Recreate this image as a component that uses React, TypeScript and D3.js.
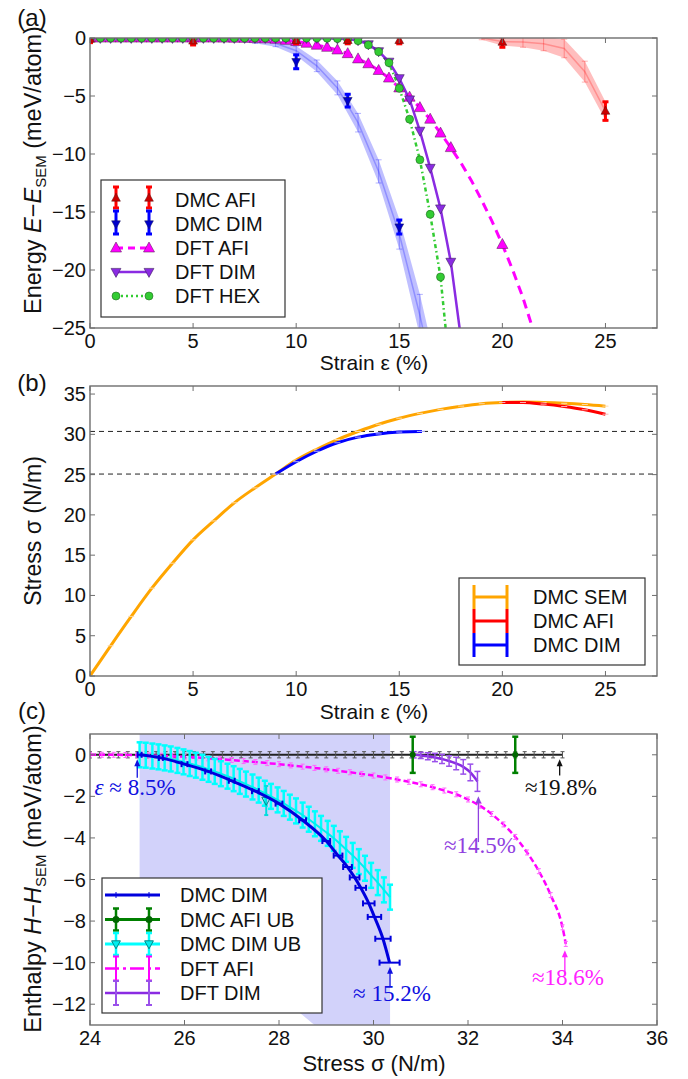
import React from 'react';
import * as d3 from 'd3';

// ---------------- Panel (a) data ----------------
const strainTicks = [0, 5, 10, 15, 20, 25];
const energyTicks = [0, -5, -10, -15, -20, -25];

const dmcAfiStrain = [0, 5, 10, 12.5, 15, 20, 25];
const dmcAfiEnergy = [-0.1, -0.25, -0.2, -0.2, -0.2, -0.35, -6.3];
const dmcAfiErr = [0.3, 0.35, 0.3, 0.3, 0.3, 0.45, 0.8];

const dmcDimStrain = [10, 12.5, 15];
const dmcDimEnergy = [-2.05, -5.4, -16.3];
const dmcDimErr = [0.6, 0.55, 0.6];

const afiBandStrain = [19, 20, 21, 22, 23, 24, 25];
const afiBandEnergy = [0, -0.3, -0.35, -0.5, -0.9, -2.9, -6.3];
const afiBandErr = [0.15, 0.35, 0.45, 0.6, 0.8, 0.9, 0.8];

const dimBandStrain = [0, 1, 2, 3, 4, 5, 6, 7, 8, 9, 10, 11, 12, 13, 14, 15, 16, 17];
const dimBandEnergy = [-0.1, -0.1, -0.1, -0.1, -0.1, -0.1, -0.1, -0.1, -0.2, -0.45, -1.1, -2.4, -4.3, -7.3, -11.5, -16.9, -23.9, -32];
const dimBandErr = [0.2, 0.2, 0.2, 0.2, 0.2, 0.2, 0.2, 0.2, 0.25, 0.3, 0.4, 0.5, 0.6, 0.8, 1.0, 1.3, 1.8, 2.2];

const dftStrain = [0, 0.5, 1, 1.5, 2, 2.5, 3, 3.5, 4, 4.5, 5, 5.5, 6, 6.5, 7, 7.5, 8, 8.5,
  9, 9.5, 10, 10.5, 11, 11.5, 12, 12.5, 13, 13.5, 14, 14.5, 15, 15.5, 16, 16.5, 17, 17.5];
const dftAfiEnergy = [0, 0, 0, 0, 0, 0, 0, 0, 0, 0, 0, 0, 0, -0.01, -0.02, -0.03, -0.05, -0.07,
  -0.1, -0.2, -0.3, -0.45, -0.62, -0.8, -1.03, -1.35, -1.8, -2.22, -2.8, -3.45, -4.3, -5.1, -6.0, -7.0, -8.2, -9.45];
const dftAfiTailStrain = [18, 18.5, 19, 19.5, 20, 20.5, 21, 21.5];
const dftAfiTailEnergy = [-10.8, -12.3, -14.0, -15.8, -17.8, -20.0, -22.4, -25.2];
const dftAfiExtraMarkerStrain = [20];
const dftAfiExtraMarkerEnergy = [-17.8];

const dftDimEnergy = [0, 0, 0, 0, 0, 0, 0, 0, 0, 0, 0, 0, 0, 0, 0, 0, 0, 0,
  0, 0, 0, 0, 0, -0.02, -0.05, -0.1, -0.2, -0.55, -1.15, -2.05, -3.47, -5.3, -8.0, -11.2, -14.7, -19.3];
const dftDimTailStrain = [18];
const dftDimTailEnergy = [-26];

const hexStrain = [0, 0.5, 1, 1.5, 2, 2.5, 3, 3.5, 4, 4.5, 5, 5.5, 6, 6.5, 7, 7.5, 8, 8.5,
  9, 9.5, 10, 10.5, 11, 11.5, 12, 12.5, 13, 13.5, 14, 14.5, 15, 15.5, 16, 16.5, 17];
const hexEnergy = [0, 0, 0, 0, 0, 0, 0, 0, 0, 0, 0, 0, 0, 0, 0, 0, 0, 0,
  0, 0, 0, 0, 0, -0.02, -0.05, -0.1, -0.23, -0.6, -1.18, -2.13, -4.34, -7.0, -10.5, -15.2, -20.6];
const hexTailStrain = [17.5];
const hexTailEnergy = [-29.5];

const legendA = ['DMC AFI', 'DMC DIM', 'DFT AFI', 'DFT DIM', 'DFT HEX'];

// ---------------- Panel (b) data ----------------
const stressTicksB = [0, 5, 10, 15, 20, 25, 30, 35];
const semStrain = [0, 1, 2, 3, 4, 5, 6, 7, 8, 9, 10, 11, 12, 13, 14, 15, 16, 17, 18, 19, 20, 21, 22, 23, 24, 25];
const semStress = [0, 3.75, 7.4, 10.9, 14.0, 16.9, 19.25, 21.5, 23.35, 25.07, 26.8, 28.15, 29.35, 30.35, 31.25, 32.0, 32.6, 33.1, 33.5, 33.8, 33.95, 34.0, 33.95, 33.85, 33.7, 33.5];
const afiStrainB = [20, 21, 22, 23, 24, 25];
const afiStressB = [33.95, 33.95, 33.75, 33.45, 33.05, 32.5];
const dimStrainB = [9, 10, 11, 12, 13, 14, 15, 16, 16.1];
const dimStressB = [25.07, 26.6, 27.9, 28.95, 29.65, 30.05, 30.28, 30.36, 30.36];
const refLinesB = [30.36, 25.07];
const legendB = ['DMC SEM', 'DMC AFI', 'DMC DIM'];

// ---------------- Panel (c) data ----------------
const stressTicksC = [24, 26, 28, 30, 32, 34, 36];
const enthalpyTicks = [0, -2, -4, -6, -8, -10, -12];

const dimStressC = [25.05, 25.5, 26, 26.5, 27, 27.5, 28, 28.5, 29, 29.25, 29.45, 29.6, 29.73, 29.9, 30.02, 30.2, 30.34];
const dimEnthalpyC = [0, -0.15, -0.45, -0.8, -1.25, -1.75, -2.35, -3.15, -4.15, -4.85, -5.4, -5.9, -6.4, -7.15, -7.8, -8.85, -10.0];
const dimXErrC = [0, 0, 0.02, 0.02, 0.02, 0.03, 0.03, 0.03, 0.04, 0.05, 0.05, 0.06, 0.07, 0.08, 0.1, 0.12, 0.17];

const dimUbStress = [25.05, 25.18, 25.32, 25.45, 25.58, 25.71, 25.85, 25.98, 26.11, 26.24, 26.38, 26.51, 26.64, 26.77, 26.91, 27.04, 27.17, 27.30, 27.44, 27.57, 27.70, 27.83, 27.97, 28.10, 28.23, 28.36, 28.50, 28.63, 28.76, 28.89, 29.03, 29.16, 29.29, 29.42, 29.56, 29.69, 29.82, 29.95, 30.09, 30.22, 30.35];
const dimUbEnthalpy = [0, -0.02, -0.06, -0.1, -0.15, -0.2, -0.27, -0.34, -0.42, -0.5, -0.6, -0.7, -0.8, -0.91, -1.03, -1.15, -1.28, -1.41, -1.55, -1.7, -1.85, -2.0, -2.17, -2.34, -2.52, -2.7, -2.9, -3.1, -3.32, -3.54, -3.78, -4.02, -4.28, -4.55, -4.84, -5.14, -5.46, -5.8, -6.15, -6.5, -6.85];
const dimUbMarkerStress = [27.73];
const dimUbMarkerEnthalpy = [-2.2];
const dimUbMarkerErr = [0.7];

const afiUbStress = [30.83, 33.0];
const afiUbEnthalpy = [0, 0];
const afiUbErr = [0.87, 0.87];

const semLineStress = [24.0, 24.2, 24.4, 24.6, 24.8, 25.0, 25.2, 25.4, 25.6, 25.8, 26.0, 26.2, 26.4, 26.6, 26.8, 27.0, 27.2, 27.4, 27.6, 27.8, 28.0, 28.2, 28.4, 28.6, 28.8, 29.0, 29.2, 29.4, 29.6, 29.8, 30.0, 30.2, 30.4, 30.6, 30.8, 31.0, 31.2, 31.4, 31.6, 31.8, 32.0, 32.2, 32.4, 32.6, 32.8, 33.0, 33.2, 33.4, 33.6, 33.8, 34.0];

const dftAfiStressC = [24, 24.25, 24.5, 24.75, 25, 25.25, 25.5, 25.75, 26, 26.25, 26.5, 26.75, 27, 27.25, 27.5, 27.75, 28, 28.25, 28.5, 28.75, 29, 29.25, 29.5, 29.75, 30, 30.25, 30.5, 30.75, 31, 31.25, 31.5, 31.75, 32, 32.25, 32.5, 32.75, 33, 33.25, 33.5, 33.75, 34, 34.07];
const dftAfiEnthalpyC = [0, 0, 0, -0.01, -0.02, -0.03, -0.05, -0.07, -0.1, -0.13, -0.17, -0.21, -0.25, -0.3, -0.35, -0.4, -0.45, -0.51, -0.57, -0.63, -0.7, -0.77, -0.84, -0.92, -1.0, -1.09, -1.19, -1.3, -1.42, -1.56, -1.72, -1.9, -2.15, -2.45, -2.85, -3.35, -3.95, -4.7, -5.6, -6.75, -8.3, -9.1];

const dftDimStressC = [30.85, 31.0, 31.15, 31.3, 31.45, 31.6, 31.75, 31.9, 32.05, 32.2];
const dftDimEnthalpyC = [0, -0.03, -0.07, -0.13, -0.2, -0.3, -0.42, -0.58, -0.85, -1.28];
const dftDimErrC = [0.15, 0.15, 0.17, 0.2, 0.22, 0.25, 0.3, 0.35, 0.4, 0.48];

const shadeStress = [25.05, 30.35, 30.35, 28.75, 25.05];
const shadeEnthalpy = [1, 1, -13, -13, -6];

const legendC = ['DMC DIM', 'DMC AFI UB', 'DMC DIM UB', 'DFT AFI', 'DFT DIM'];

// annotations: arrow at stress, from/to enthalpy, colour
const annStress = [25.0, 30.35, 33.94, 32.22, 34.05];
const annFrom = [-1.1, -11.15, -1.0, -4.2, -10.66];
const annTo = [-0.22, -10.2, -0.22, -2.0, -9.4];
const annColor = ['#1010e0', '#1010e0', '#111', '#9040e0', '#ff22ff'];

// ---------------- styling ----------------
const FONT = '"Liberation Sans", Arial, Helvetica, sans-serif';
const SERIF = '"Liberation Serif", "Times New Roman", serif';
const FRAME = '#6e6e6e';
const PURPLE = '#8a2be2';
const GREEN = '#33cc33';

const fmt = (v: number) => (v < 0 ? '\u2212' + Math.abs(v) : String(v));

function Axes({ x, y, xTicks, yTicks }: any) {
  const [l, r] = x.range();
  const [b, t] = y.range();
  return (
    <g fontFamily={FONT} fontSize={20} fill="#111">
      <rect x={l} y={t} width={r - l} height={b - t} fill="none" stroke={FRAME} strokeWidth={1.4} />
      {xTicks.map((v: number) => (
        <g key={'x' + v}>
          <line x1={x(v)} x2={x(v)} y1={b} y2={b - 5} stroke={FRAME} />
          <line x1={x(v)} x2={x(v)} y1={t} y2={t + 5} stroke={FRAME} />
          <text x={x(v)} y={b + 20} textAnchor="middle">{fmt(v)}</text>
        </g>
      ))}
      {yTicks.map((v: number) => (
        <g key={'y' + v}>
          <line x1={l} x2={l + 5} y1={y(v)} y2={y(v)} stroke={FRAME} />
          <line x1={r} x2={r - 5} y1={y(v)} y2={y(v)} stroke={FRAME} />
          <text x={l - 4} y={y(v) + 7} textAnchor="end">{fmt(v)}</text>
        </g>
      ))}
    </g>
  );
}

function VErr({ cx, y1, y2, color, cap = 3, width = 1.5, opacity = 1 }: any) {
  return (
    <g stroke={color} strokeWidth={width} opacity={opacity}>
      <line x1={cx} x2={cx} y1={y1} y2={y2} />
      <line x1={cx - cap} x2={cx + cap} y1={y1} y2={y1} />
      <line x1={cx - cap} x2={cx + cap} y1={y2} y2={y2} />
    </g>
  );
}

const triUp = (cx: number, cy: number, s: number) =>
  `M${cx},${cy - s * 0.6}L${cx + s * 0.55},${cy + s * 0.4}L${cx - s * 0.55},${cy + s * 0.4}Z`;
const triDown = (cx: number, cy: number, s: number) =>
  `M${cx},${cy + s * 0.6}L${cx + s * 0.55},${cy - s * 0.4}L${cx - s * 0.55},${cy - s * 0.4}Z`;

function Arrow({ x, y1, y2, color }: any) {
  return (
    <g stroke={color} fill={color}>
      <line x1={x} x2={x} y1={y1} y2={y2 + 5} strokeWidth={1.3} />
      <path d={`M${x},${y2}L${x + 3},${y2 + 7}L${x - 3},${y2 + 7}Z`} stroke="none" />
    </g>
  );
}

function PanelA() {
  const x = d3.scaleLinear().domain([0, 27.5]).range([90, 657]);
  const y = d3.scaleLinear().domain([-25, 0]).range([328, 38]);
  const line = d3.line<[number, number]>().x(d => x(d[0])).y(d => y(d[1]));
  const zip = (a: number[], b: number[]) => a.map((v, i) => [v, b[i]] as [number, number]);
  const band = (s: number[], e: number[], err: number[]) =>
    d3.area<number>().x(i => x(s[i])).y0(i => y(e[i] - err[i])).y1(i => y(e[i] + err[i]))(s.map((_, i) => i)) || '';
  const afiLine = zip(dftStrain.concat(dftAfiTailStrain), dftAfiEnergy.concat(dftAfiTailEnergy));
  const dimLine = zip(dftStrain.concat(dftDimTailStrain), dftDimEnergy.concat(dftDimTailEnergy));
  const hexLine = zip(hexStrain.concat(hexTailStrain), hexEnergy.concat(hexTailEnergy));
  const afiMarkers = zip(dftStrain.concat(dftAfiExtraMarkerStrain), dftAfiEnergy.concat(dftAfiExtraMarkerEnergy));
  return (
    <g>
      <defs>
        <clipPath id="clipA"><rect x={90} y={38} width={567} height={290} /></clipPath>
      </defs>
      <g clipPath="url(#clipA)">
        <path d={band(dimBandStrain, dimBandEnergy, dimBandErr)} fill="rgba(60,60,255,0.33)" />
        <path d={line(zip(dimBandStrain, dimBandEnergy)) || ''} fill="none" stroke="rgba(0,0,255,0.25)" strokeWidth={1.5} />
        {dimBandStrain.map((s, i) => (
          <VErr key={'db' + i} cx={x(s)} y1={y(dimBandEnergy[i] + dimBandErr[i])} y2={y(dimBandEnergy[i] - dimBandErr[i])} color="rgba(0,0,255,0.3)" width={1} />
        ))}
        <path d={band(afiBandStrain, afiBandEnergy, afiBandErr)} fill="rgba(255,40,40,0.3)" />
        <path d={line(zip(afiBandStrain, afiBandEnergy)) || ''} fill="none" stroke="rgba(255,0,0,0.25)" strokeWidth={1.5} />
        {afiBandStrain.map((s, i) => (
          <VErr key={'ab' + i} cx={x(s)} y1={y(afiBandEnergy[i] + afiBandErr[i])} y2={y(afiBandEnergy[i] - afiBandErr[i])} color="rgba(255,0,0,0.3)" width={1} />
        ))}
        <path d={line(afiLine) || ''} fill="none" stroke="#ff00ff" strokeWidth={3} strokeDasharray="9,6" />
        <path d={line(hexLine) || ''} fill="none" stroke={GREEN} strokeWidth={2.5} strokeDasharray="4,3,1.5,3" />
        <path d={line(dimLine) || ''} fill="none" stroke={PURPLE} strokeWidth={2.5} />
        {afiMarkers.map((d, i) => (
          <path key={'am' + i} d={triUp(x(d[0]), y(d[1]), 10)} fill="#ff00ff" stroke="#662266" strokeWidth={0.6} />
        ))}
        {dimLine.slice(0, dftStrain.length).map((d, i) => (
          <path key={'dm' + i} d={triDown(x(d[0]), y(d[1]), 9)} fill={PURPLE} stroke="#402060" strokeWidth={0.6} />
        ))}
        {zip(hexStrain, hexEnergy).map((d, i) => (
          <circle key={'hm' + i} cx={x(d[0])} cy={y(d[1])} r={4} fill={GREEN} stroke="#226622" strokeWidth={0.6} />
        ))}
        {dmcAfiStrain.map((s, i) => (
          <g key={'da' + i}>
            <VErr cx={x(s)} y1={y(dmcAfiEnergy[i] + dmcAfiErr[i])} y2={y(dmcAfiEnergy[i] - dmcAfiErr[i])} color="#ff0000" width={3} cap={3} />
            <path d={triUp(x(s), y(dmcAfiEnergy[i]), 8)} fill="#cc0000" stroke="#551111" strokeWidth={0.5} />
          </g>
        ))}
        {dmcDimStrain.map((s, i) => (
          <g key={'dd' + i}>
            <VErr cx={x(s)} y1={y(dmcDimEnergy[i] + dmcDimErr[i])} y2={y(dmcDimEnergy[i] - dmcDimErr[i])} color="#0000ff" width={3} cap={3} />
            <path d={triDown(x(s), y(dmcDimEnergy[i]), 8)} fill="#0000cc" stroke="#111155" strokeWidth={0.5} />
          </g>
        ))}
      </g>
      <Axes x={x} y={y} xTicks={strainTicks} yTicks={energyTicks} />
      {/* legend */}
      <g fontFamily={FONT} fontSize={20}>
        <rect x={101} y={180} width={184} height={137} fill="#fff" stroke="#333" strokeWidth={1.2} />
        {legendA.map((name, i) => {
          const cy = 200 + 24 * i;
          return (
            <g key={name}>
              {i === 0 && [116, 149].map(cx => (
                <g key={cx}>
                  <VErr cx={cx} y1={cy - 13} y2={cy + 8} color="#ff0000" width={3} cap={3} />
                  <path d={triUp(cx, cy - 2, 8)} fill="#cc0000" stroke="#551111" strokeWidth={0.5} />
                </g>
              ))}
              {i === 1 && [116, 149].map(cx => (
                <g key={cx}>
                  <VErr cx={cx} y1={cy - 13} y2={cy + 10} color="#0000ff" width={3} cap={3} />
                  <path d={triDown(cx, cy, 8)} fill="#0000cc" stroke="#111155" strokeWidth={0.5} />
                </g>
              ))}
              {i === 2 && (
                <g>
                  <line x1={116} x2={149} y1={cy} y2={cy} stroke="#ff00ff" strokeWidth={3} strokeDasharray="7,5" />
                  {[116, 149].map(cx => <path key={cx} d={triUp(cx, cy, 10)} fill="#ff00ff" stroke="#662266" strokeWidth={0.6} />)}
                </g>
              )}
              {i === 3 && (
                <g>
                  <line x1={116} x2={149} y1={cy} y2={cy} stroke={PURPLE} strokeWidth={2.5} />
                  {[116, 149].map(cx => <path key={cx} d={triDown(cx, cy, 9)} fill={PURPLE} stroke="#402060" strokeWidth={0.6} />)}
                </g>
              )}
              {i === 4 && (
                <g>
                  <line x1={116} x2={149} y1={cy} y2={cy} stroke={GREEN} strokeWidth={2.5} strokeDasharray="2,3" />
                  {[116, 149].map(cx => <circle key={cx} cx={cx} cy={cy} r={4} fill={GREEN} stroke="#226622" strokeWidth={0.6} />)}
                </g>
              )}
              <text x={175} y={cy + 7} fill="#111">{name}</text>
            </g>
          );
        })}
      </g>
      <g fontFamily={FONT} fill="#111">
        <text x={32} y={26} fontSize={24} textAnchor="middle">(a)</text>
        <text x={374} y={370} fontSize={21} textAnchor="middle">Strain ε (%)</text>
        <text transform="translate(41,170) rotate(-90)" fontSize={23.5} textAnchor="middle">
          Energy <tspan fontStyle="italic">E</tspan>{'\u2212'}<tspan fontStyle="italic">E</tspan>
          <tspan fontSize={15} dy={5}>SEM</tspan><tspan dy={-5}> (meV/atom)</tspan>
        </text>
      </g>
    </g>
  );
}

function PanelB() {
  const x = d3.scaleLinear().domain([0, 27.5]).range([90, 657]);
  const y = d3.scaleLinear().domain([0, 36]).range([676, 386]);
  const curve = (s: number[], v: number[]) =>
    d3.line<number>().x(i => x(s[i])).y(i => y(v[i])).curve(d3.curveMonotoneX)(s.map((_, i) => i)) || '';
  const series = [
    { s: semStrain, v: semStress, c: '#ffa500', t: '#ffd9a0' },
    { s: afiStrainB, v: afiStressB, c: '#ff0000', t: '#ffb0b0' },
    { s: dimStrainB, v: dimStressB, c: '#0000ff', t: '#b0b0ff' },
  ];
  return (
    <g>
      <defs>
        <clipPath id="clipB"><rect x={90} y={386} width={567} height={290} /></clipPath>
      </defs>
      <g clipPath="url(#clipB)">
        {refLinesB.map(v => (
          <line key={v} x1={90} x2={657} y1={y(v)} y2={y(v)} stroke="#222" strokeWidth={1} strokeDasharray="5,4" />
        ))}
        {series.map((sr, k) => (
          <g key={k}>
            <path d={curve(sr.s, sr.v)} fill="none" stroke={sr.c} strokeWidth={3} />
            {sr.s.map((s, i) => (
              <line key={i} x1={x(s) - 3} x2={x(s) + 3} y1={y(sr.v[i])} y2={y(sr.v[i])} stroke={sr.t} strokeWidth={1} />
            ))}
          </g>
        ))}
      </g>
      <Axes x={x} y={y} xTicks={strainTicks} yTicks={stressTicksB} />
      <g fontFamily={FONT} fontSize={20}>
        <rect x={459} y={578} width={186} height={87} fill="#fff" stroke="#333" strokeWidth={1.2} />
        {legendB.map((name, i) => {
          const cy = 597 + 24 * i;
          const sr = series[i];
          return (
            <g key={name}>
              <line x1={474} x2={507} y1={cy} y2={cy} stroke={sr.c} strokeWidth={3} />
              <line x1={474} x2={474} y1={cy - 12} y2={cy + 12} stroke={sr.c} strokeWidth={3} />
              <line x1={507} x2={507} y1={cy - 12} y2={cy + 12} stroke={sr.c} strokeWidth={3} />
              <text x={533} y={cy + 7} fill="#111">{name}</text>
            </g>
          );
        })}
      </g>
      <g fontFamily={FONT} fill="#111">
        <text x={32} y={391} fontSize={24} textAnchor="middle">(b)</text>
        <text x={374} y={719} fontSize={21} textAnchor="middle">Strain ε (%)</text>
        <text transform="translate(41,531) rotate(-90)" fontSize={23} textAnchor="middle">Stress σ  (N/m)</text>
      </g>
    </g>
  );
}

function PanelC() {
  const x = d3.scaleLinear().domain([24, 36]).range([90, 657]);
  const y = d3.scaleLinear().domain([-13, 1]).range([1025, 734]);
  const curve = (s: number[], v: number[]) =>
    d3.line<number>().x(i => x(s[i])).y(i => y(v[i])).curve(d3.curveMonotoneX)(s.map((_, i) => i)) || '';
  const shade = d3.line<number>().x(i => x(shadeStress[i])).y(i => y(shadeEnthalpy[i]))(shadeStress.map((_, i) => i)) + 'Z';
  const labels = [
    <tspan key="a"><tspan fontStyle="italic">ε</tspan> ≈ 8.5%</tspan>,
    <tspan key="b">≈ 15.2%</tspan>,
    <tspan key="c">≈19.8%</tspan>,
    <tspan key="d">≈14.5%</tspan>,
    <tspan key="e">≈18.6%</tspan>,
  ];
  const labelPos = [[135, 795], [392, 1001], [561, 795], [480, 853], [568, 985]];
  return (
    <g>
      <defs>
        <clipPath id="clipC"><rect x={90} y={734} width={567} height={291} /></clipPath>
      </defs>
      <g clipPath="url(#clipC)">
        <path d={shade} fill="#d2d2fa" />
        <path d={d3.line<number>().x(s => x(s)).y(() => y(0))(semLineStress) || ''} stroke="#222" strokeWidth={2} fill="none" />
        {semLineStress.map((s, i) => (
          <VErr key={'sl' + i} cx={x(s)} y1={y(0.15)} y2={y(-0.15)} color="#555" cap={2} width={1} />
        ))}
        <path d={curve(dftAfiStressC, dftAfiEnthalpyC)} fill="none" stroke="#ff00ff" strokeWidth={2.5} strokeDasharray="6,3" />
        {dftAfiStressC.map((s, i) => (
          <VErr key={'fa' + i} cx={x(s)} y1={y(dftAfiEnthalpyC[i] + 0.12)} y2={y(dftAfiEnthalpyC[i] - 0.12)} color="#ff66ff" cap={2} width={1} />
        ))}
        {dimUbStress.map((s, i) => (
          <VErr key={'ub' + i} cx={x(s)} y1={y(dimUbEnthalpy[i] + 0.6)} y2={y(dimUbEnthalpy[i] - 0.6)} color="#00ffff" cap={3} width={2.5} />
        ))}
        <path d={curve(dimUbStress, dimUbEnthalpy)} fill="none" stroke="#00eeee" strokeWidth={2} />
        {dimUbMarkerStress.map((s, i) => (
          <g key={'um' + i}>
            <VErr cx={x(s)} y1={y(dimUbMarkerEnthalpy[i] + dimUbMarkerErr[i])} y2={y(dimUbMarkerEnthalpy[i] - dimUbMarkerErr[i])} color="#00dddd" cap={2} width={2} />
            <path d={triDown(x(s), y(dimUbMarkerEnthalpy[i]), 8)} fill="none" stroke="#008888" strokeWidth={1} />
          </g>
        ))}
        <path d={curve(dimStressC, dimEnthalpyC)} fill="none" stroke="#0000dd" strokeWidth={3} />
        {dimStressC.map((s, i) => (
          <g key={'dx' + i} stroke="#0000dd" strokeWidth={2}>
            <line x1={x(s - dimXErrC[i]) - 2} x2={x(s + dimXErrC[i]) + 2} y1={y(dimEnthalpyC[i])} y2={y(dimEnthalpyC[i])} />
            <line x1={x(s - dimXErrC[i]) - 2} x2={x(s - dimXErrC[i]) - 2} y1={y(dimEnthalpyC[i]) - 3} y2={y(dimEnthalpyC[i]) + 3} />
            <line x1={x(s + dimXErrC[i]) + 2} x2={x(s + dimXErrC[i]) + 2} y1={y(dimEnthalpyC[i]) - 3} y2={y(dimEnthalpyC[i]) + 3} />
          </g>
        ))}
        <path d={curve(dftDimStressC, dftDimEnthalpyC)} fill="none" stroke={PURPLE} strokeWidth={2.5} />
        {dftDimStressC.map((s, i) => (
          <VErr key={'dd' + i} cx={x(s)} y1={y(dftDimEnthalpyC[i] + dftDimErrC[i])} y2={y(dftDimEnthalpyC[i] - dftDimErrC[i])} color="#9a50ea" cap={3} width={1.5} />
        ))}
        {afiUbStress.map((s, i) => (
          <g key={'ga' + i}>
            <VErr cx={x(s)} y1={y(afiUbEnthalpy[i] + afiUbErr[i])} y2={y(afiUbEnthalpy[i] - afiUbErr[i])} color="#008000" cap={3} width={2.5} />
            <circle cx={x(s)} cy={y(afiUbEnthalpy[i])} r={3} fill="#006600" />
          </g>
        ))}
        {annStress.map((s, i) => (
          <Arrow key={'ar' + i} x={x(s)} y1={y(annFrom[i])} y2={y(annTo[i])} color={annColor[i]} />
        ))}
      </g>
      <g fontFamily={SERIF} fontSize={23}>
        {labels.map((lb, i) => (
          <text key={i} x={labelPos[i][0]} y={labelPos[i][1]} textAnchor="middle" fill={annColor[i]}>{lb}</text>
        ))}
      </g>
      <Axes x={x} y={y} xTicks={stressTicksC} yTicks={enthalpyTicks} />
      <g fontFamily={FONT} fontSize={20}>
        <rect x={102} y={878} width={220} height={135} fill="#fff" stroke="#333" strokeWidth={1.2} />
        {legendC.map((name, i) => {
          const cy = 895 + 24.5 * i;
          return (
            <g key={name}>
              {i === 0 && (
                <g stroke="#0000dd">
                  <line x1={105} x2={160} y1={cy} y2={cy} strokeWidth={3} />
                  <line x1={116} x2={116} y1={cy - 3} y2={cy + 3} strokeWidth={1} />
                  <line x1={149} x2={149} y1={cy - 3} y2={cy + 3} strokeWidth={1} />
                </g>
              )}
              {i === 1 && (
                <g>
                  <line x1={105} x2={160} y1={cy} y2={cy} stroke="#008000" strokeWidth={3} />
                  {[116, 149].map(cx => (
                    <g key={cx}>
                      <VErr cx={cx} y1={cy - 11} y2={cy + 11} color="#008000" cap={3} width={2.5} />
                      <circle cx={cx} cy={cy} r={3.5} fill="#006600" />
                    </g>
                  ))}
                </g>
              )}
              {i === 2 && (
                <g>
                  <line x1={105} x2={160} y1={cy} y2={cy} stroke="#00ffff" strokeWidth={3} />
                  {[116, 149].map(cx => (
                    <g key={cx}>
                      <VErr cx={cx} y1={cy - 11} y2={cy + 11} color="#00ffff" cap={3} width={2.5} />
                      <path d={triDown(cx, cy, 8)} fill="#00eeee" stroke="#008888" strokeWidth={1} />
                    </g>
                  ))}
                </g>
              )}
              {i === 3 && (
                <g>
                  <line x1={105} x2={160} y1={cy} y2={cy} stroke="#ff00ff" strokeWidth={2.5} strokeDasharray="14,4,3,4" />
                  {[116, 149].map(cx => <VErr key={cx} cx={cx} y1={cy - 12} y2={cy + 12} color="#ff00ff" cap={3} width={2} />)}
                </g>
              )}
              {i === 4 && (
                <g>
                  <line x1={105} x2={160} y1={cy} y2={cy} stroke={PURPLE} strokeWidth={2.5} />
                  {[116, 149].map(cx => <VErr key={cx} cx={cx} y1={cy - 12} y2={cy + 12} color="#9a50ea" cap={3} width={2} />)}
                </g>
              )}
              <text x={180} y={cy + 7} fill="#111">{name}</text>
            </g>
          );
        })}
      </g>
      <g fontFamily={FONT} fill="#111">
        <text x={32} y={719} fontSize={24} textAnchor="middle">(c)</text>
        <text x={374} y={1071} fontSize={22} textAnchor="middle">Stress σ (N/m)</text>
        <text transform="translate(41,879) rotate(-90)" fontSize={23.5} textAnchor="middle">
          Enthalpy <tspan fontStyle="italic">H</tspan>{'\u2212'}<tspan fontStyle="italic">H</tspan>
          <tspan fontSize={15} dy={5}>SEM</tspan><tspan dy={-5}> (meV/atom)</tspan>
        </text>
      </g>
    </g>
  );
}

export default function App() {
  return (
    <svg width={688} height={1079} viewBox="0 0 688 1079"
      style={{ position: 'absolute', left: 0, top: 0, display: 'block', background: '#fff' }}>
      <rect width={688} height={1079} fill="#fff" />
      <PanelA />
      <PanelB />
      <PanelC />
    </svg>
  );
}
